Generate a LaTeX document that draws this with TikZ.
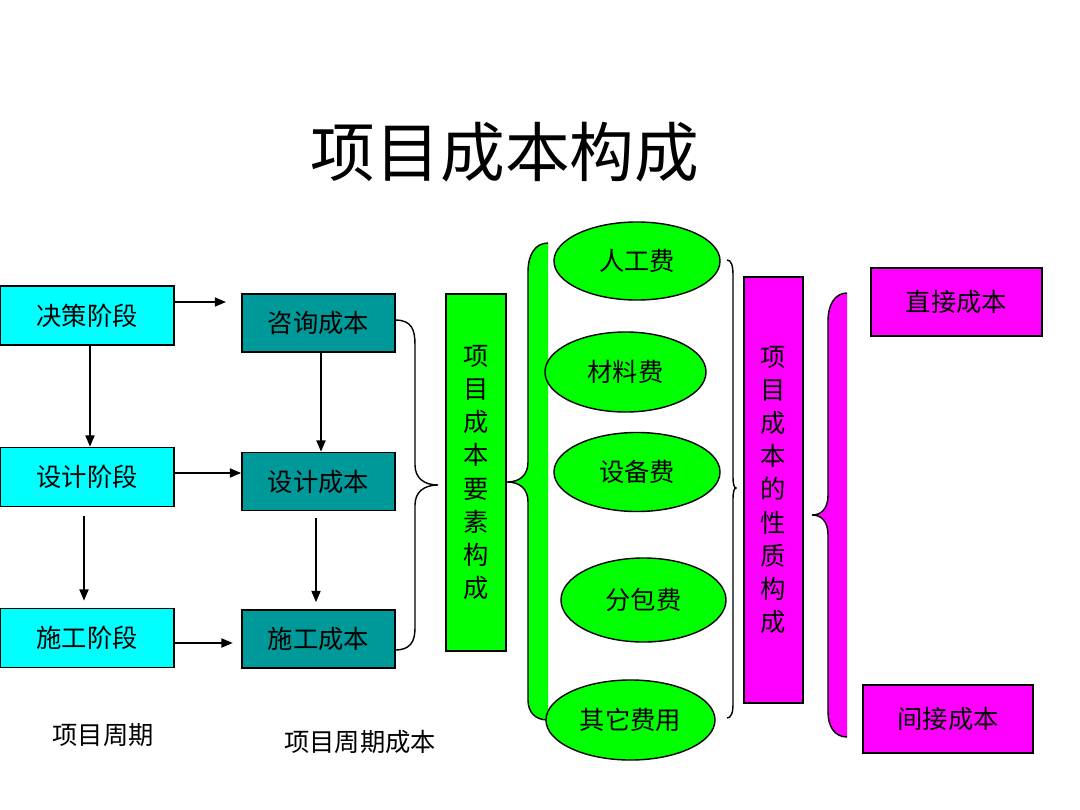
\documentclass[tikz,border=0pt]{standalone}
\usepackage{fontspec}
\setmainfont{Noto Sans CJK SC}
\usetikzlibrary{shapes.geometric, arrows.meta}

\definecolor{stagecyan}{RGB}{0,255,255}
\definecolor{costteal}{RGB}{0,153,153}
\definecolor{elemgreen}{RGB}{0,255,0}
\definecolor{naturemag}{RGB}{255,0,255}

\tikzstyle{stage} = [rectangle, minimum width=4.35cm, minimum height=1.475cm, inner sep=0pt, draw=black, line width=1.2pt, fill=stagecyan, font=\fontsize{18}{22}\selectfont]
\tikzstyle{cost} = [rectangle, minimum width=3.825cm, minimum height=1.45cm, inner sep=0pt, draw=black, line width=1.2pt, fill=costteal, font=\fontsize{18}{22}\selectfont]
\tikzstyle{column} = [rectangle, inner sep=0pt, text width=0.8cm, align=center, draw=black, line width=1.2pt, font=\fontsize{18}{23.5}\selectfont]
\tikzstyle{fee} = [ellipse, inner sep=0pt, draw=black, line width=1pt, fill=elemgreen, font=\fontsize{18}{22}\selectfont]
\tikzstyle{sort} = [rectangle, minimum width=4.275cm, minimum height=1.7cm, inner sep=0pt, draw=black, line width=1.2pt, fill=naturemag, font=\fontsize{18}{22}\selectfont]
\tikzstyle{caption} = [font=\fontsize{18}{22}\selectfont]
\tikzstyle{arrow} = [line width=1pt,-{Stealth[length=8pt, width=6.5pt, inset=0pt]}]
\tikzstyle{brace} = [line width=1pt]

\begin{document}
\begin{tikzpicture}[x=0.025cm, y=-0.025cm]

  \useasboundingbox (0,0) rectangle (1080,810);

  \node (title) at (505,152) {\fontsize{46}{50}\selectfont 项目成本构成};

  % --- %

  \node (jc) [stage] at (87,315.5) {决策阶段};
  \node (sj) [stage] at (87,477) {设计阶段};
  \node (sg) [stage] at (87,638) {施工阶段};

  \node (zxcb) [cost] at (318.5,323) {咨询成本};
  \node (sjcb) [cost] at (318.5,481.5) {设计成本};
  \node (sgcb) [cost] at (318.5,639) {施工成本};

  \node (zq) [caption] at (103,735) {项目周期};
  \node (zqcb) [caption] at (360,742) {项目周期成本};

  \coordinate (jcend) at (226,302);
  \draw [arrow] (jc.east |- jcend) -- (jcend);
  \draw [arrow] (sj.east |- 0,473) -- (sjcb.west |- 0,473);
  \draw [arrow, shorten >=6pt] (sg.east |- 0,643) -- (sgcb.west |- 0,643);
  \draw [arrow] (jc.south -| 90,0) -- (sj.north -| 90,0);
  \draw [arrow, shorten <=6pt, shorten >=5pt] (sj.south -| 84,0) -- (sg.north -| 84,0);
  \draw [arrow] (zxcb.south -| 321,0) -- (sjcb.north -| 321,0);
  \draw [arrow, shorten <=5pt, shorten >=5pt] (sjcb.south -| 316,0) -- (sgcb.north -| 316,0);

  % --- %

  \draw [brace] (395,320) .. controls (412,320) and (415,330) .. (415,345) -- (415,465)
    .. controls (415,478) and (424,485) .. (438,485) .. controls (424,485) and (415,492) .. (415,505)
    -- (415,628) .. controls (415,642) and (410,650) .. (395,650);

  \node (ys) [column, fill=elemgreen, minimum width=1.5cm, minimum height=8.925cm] at (476,472.5)
    {项\\目\\成\\本\\要\\素\\构\\成};

  \fill [elemgreen] (548,243) .. controls (535,243) and (528,255) .. (528,272) -- (528,462)
    .. controls (528,475) and (520,482) .. (507,482) .. controls (520,482) and (528,489) .. (528,502)
    -- (528,700) .. controls (528,712) and (535,720) .. (548,720) -- cycle;
  \draw [brace] (548,243) .. controls (535,243) and (528,255) .. (528,272) -- (528,462)
    .. controls (528,475) and (520,482) .. (507,482) .. controls (520,482) and (528,489) .. (528,502)
    -- (528,700) .. controls (528,712) and (535,720) .. (548,720);

  \node (rg) [fee, minimum width=4.15cm, minimum height=1.95cm] at (637,261) {人工费};
  \node (cl) [fee, minimum width=4.025cm, minimum height=2cm] at (625.5,372) {材料费};
  \node (sb) [fee, minimum width=4.15cm, minimum height=1.975cm] at (637,472) {设备费};
  \node (fb) [fee, minimum width=4.125cm, minimum height=2.1cm] at (643.5,600) {分包费};
  \node (qt) [fee, minimum width=4.225cm, minimum height=2cm] at (630.5,720) {其它费用};

  \draw [brace] (727,260) .. controls (731,260) and (733,265) .. (733,275) -- (733,476)
    .. controls (733,484) and (734,488) .. (736,488) .. controls (734,488) and (733,492) .. (733,500)
    -- (733,704) .. controls (733,713) and (731,718) .. (727,718);

  % --- %

  \node (xz) [column, fill=naturemag, minimum width=1.475cm, minimum height=10.65cm] at (773.5,490)
    {项\\目\\成\\本\\的\\性\\质\\构\\成};

  \fill [naturemag] (847,293) .. controls (835,293) and (828,305) .. (828,320) -- (828,495)
    .. controls (828,508) and (822,515) .. (812,515) .. controls (822,515) and (828,522) .. (828,535)
    -- (828,712) .. controls (828,727) and (835,737) .. (847,737) -- cycle;
  \draw [brace] (847,293) .. controls (835,293) and (828,305) .. (828,320) -- (828,495)
    .. controls (828,508) and (822,515) .. (812,515) .. controls (822,515) and (828,522) .. (828,535)
    -- (828,712) .. controls (828,727) and (835,737) .. (847,737);

  \node (zj) [sort] at (956.5,302) {直接成本};
  \node (jj) [sort, minimum width=4.25cm] at (948,719) {间接成本};

\end{tikzpicture}
\end{document}
